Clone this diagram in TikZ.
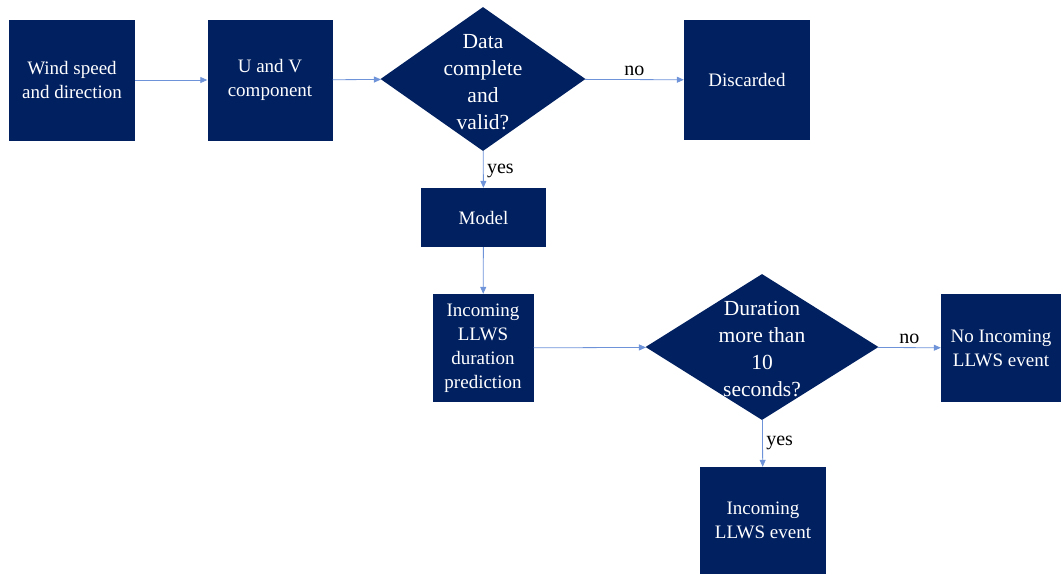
\documentclass[tikz,border=0pt]{standalone}
\usepackage{fontspec}
\setmainfont{Liberation Serif}
\usetikzlibrary{shapes.geometric, arrows.meta}
\definecolor{navy}{HTML}{002060}
\definecolor{flow}{HTML}{6F93D8}

\begin{document}
\begin{tikzpicture}[x = 1pt, y = -1pt,
		box/.style = {fill = navy, text = white, align = center, inner sep = 0pt,
			font = \fontsize{19}{24}\selectfont},
		dia/.style = {diamond, fill = navy, inner sep = 0pt},
		diatext/.style = {text = white, align = center, font = \fontsize{21.5}{27}\selectfont},
		lab/.style = {font = \fontsize{20}{24}\selectfont},
		line/.style = {draw = flow, line width = 0.8pt, -{Triangle[length = 7pt, width = 6pt]}}]
		\useasboundingbox (0, 0) rectangle (1063, 574);
		%%%%%%%%%%%%%
		\node[box, minimum width = 126pt, minimum height = 121pt] (a) at (72, 80) {Wind speed\\and direction};
		\node[box, minimum width = 125pt, minimum height = 121pt] (b) at (270, 80) {U and V\\component};
		\node[dia, minimum width = 205pt, minimum height = 144pt] (c) at (483, 79) {};
		\node[diatext] (ct) at (483, 82) {Data\\complete\\and\\valid?};
		\node[box, minimum width = 126pt, minimum height = 120pt] (d) at (747, 80) {Discarded};
		\node[box, minimum width = 125pt, minimum height = 59pt] (e) at (483.5, 217.5) {Model};
		\node[box, minimum width = 101pt, minimum height = 108pt] (f) at (483, 348) {Incoming\\LLWS\\duration\\prediction};
		\node[dia, minimum width = 233pt, minimum height = 146pt] (g) at (762, 347) {};
		\node[diatext] (gt) at (762, 349) {Duration\\more than\\10\\seconds?};
		\node[box, minimum width = 120pt, minimum height = 108pt] (h) at (1001, 348) {No Incoming\\LLWS event};
		\node[box, minimum width = 126pt, minimum height = 107pt] (i) at (763, 520.5) {Incoming\\LLWS event};
		%%%%%%%%%%%%%
		\draw[line] (a) to (b);
		\draw[line] (b) to (c);
		\draw[line] (c) to node[lab, above] {no} (d);
		\draw[line] (c) to node[lab, right, yshift = -2pt] {yes} (e);
		\draw[line] (e) to (f);
		\draw[line] (f) to (g);
		\draw[line] (g) to node[lab, above] {no} (h);
		\draw[line] (g) to node[lab, right] {yes} (i);
\end{tikzpicture}
\end{document}
